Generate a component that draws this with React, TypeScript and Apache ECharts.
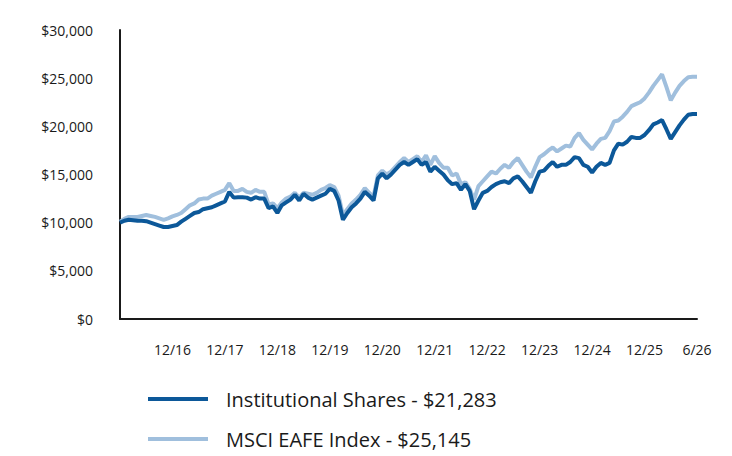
import { useEffect, useRef } from 'react';
import * as echarts from 'echarts';

// monthly growth of $10,000, index 0 .. 132
const institutional = [
  10000, 10200, 10300, 10250, 10200, 10200, 10150, 10000, 9850, 9700,
  9550, 9550, 9650, 9750, 10100, 10400, 10700, 11000, 11100, 11400,
  11500, 11600, 11800, 12000, 12200, 13200, 12600, 12650, 12650, 12600,
  12400, 12650, 12500, 12500, 11500, 11700, 11000, 11800, 12100, 12400,
  12900, 12300, 13000, 12600, 12400, 12600, 12800, 13000, 13500, 13300,
  12300, 10300, 11000, 11600, 12000, 12500, 13200, 12800, 12300, 14600,
  15100, 14600, 15000, 15500, 16000, 16300, 16000, 16300, 16600, 16000,
  16300, 15300, 15800, 15400, 15000, 14400, 14000, 14100, 13400, 14000,
  13300, 11400, 12300, 13100, 13300, 13700, 14000, 14200, 14300, 14100,
  14600, 14800, 14300, 13700, 13100, 14300, 15300, 15400, 15900, 16300,
  15800, 16000, 16000, 16300, 16800, 16700, 16000, 15800, 15200, 15800,
  16200, 16000, 16200, 17500, 18200, 18100, 18400, 18900, 18800, 18800,
  19100, 19600, 20200, 20400, 20650, 19700, 18700, 19400, 20100, 20700,
  21200, 21283, 21283,
];

const msciEafe = [
  10100, 10400, 10600, 10600, 10600, 10700, 10800, 10700, 10600, 10450,
  10300, 10450, 10650, 10800, 11000, 11400, 11800, 12000, 12400, 12500,
  12500, 12800, 13000, 13200, 13400, 14100, 13300, 13300, 13500, 13200,
  13100, 13400, 13200, 13200, 11900, 12000, 11500, 12100, 12500, 12700,
  13100, 12600, 13100, 13000, 12900, 13100, 13400, 13600, 13900, 13700,
  12800, 10800, 11400, 12000, 12400, 12900, 13600, 13100, 12700, 14900,
  15400, 15000, 15300, 15800, 16300, 16700, 16300, 16600, 16900, 16300,
  17000, 16000, 16900, 16200, 15700, 15700, 14900, 15100, 14000, 14200,
  13500, 12400, 13800, 14300, 14800, 15300, 15100, 15600, 16000, 15700,
  16300, 16700, 16000, 15300, 14700, 15800, 16800, 17100, 17500, 17800,
  17400, 17700, 18000, 17900, 18800, 19300, 18600, 18100, 17600, 18200,
  18700, 18800, 19500, 20500, 20600, 21000, 21500, 22100, 22300, 22500,
  22900, 23500, 24200, 24800, 25400, 24100, 22700, 23500, 24200, 24700,
  25100, 25145, 25145,
];

const tickIndex = [12, 24, 36, 48, 60, 72, 84, 96, 108, 120, 132];
const tickLabels = ['12/16', '12/17', '12/18', '12/19', '12/20', '12/21', '12/22', '12/23', '12/24', '12/25', '6/26'];

const seriesNames = ['Institutional Shares - $21,283', 'MSCI EAFE Index - $25,145'];

const FONT = "'Open Sans', sans-serif";

const legendItem = (name: string, top: number) => ({
  left: 143,
  top,
  itemWidth: 60,
  itemHeight: 4,
  icon: 'rect',
  data: [name],
  textStyle: {
    fontSize: 20,
    fontFamily: FONT,
    color: '#1a1a1a',
    padding: [0, 0, 0, 13],
  },
});

export default function App() {
  const chartRef = useRef<HTMLDivElement>(null);

  useEffect(() => {
    document.body.style.margin = '0';
    if (!chartRef.current) return;
    const chart = echarts.init(chartRef.current, undefined, { renderer: 'svg' });

    const categories = institutional.map((_, i) => String(i));

    chart.setOption({
      animation: false,
      backgroundColor: '#ffffff',
      grid: { left: 120, right: 35, top: 30, bottom: 137 },
      xAxis: {
        type: 'category',
        data: categories,
        boundaryGap: false,
        axisLine: { lineStyle: { color: '#1a1a1a', width: 2 } },
        axisTick: { show: false },
        axisLabel: {
          interval: 0,
          margin: 23,
          color: '#1a1a1a',
          fontSize: 14,
          fontFamily: FONT,
          formatter: (_v: string, idx: number) => {
            const k = tickIndex.indexOf(idx);
            return k >= 0 ? tickLabels[k] : '';
          },
        },
        splitLine: { show: false },
      },
      yAxis: {
        type: 'value',
        min: 0,
        max: 30000,
        interval: 5000,
        axisLine: { show: true, lineStyle: { color: '#1a1a1a', width: 2 } },
        axisTick: { show: false },
        axisLabel: {
          margin: 27,
          color: '#1a1a1a',
          fontSize: 14,
          fontFamily: FONT,
          formatter: (v: number) => '$' + v.toLocaleString('en-US'),
        },
        splitLine: { show: false },
      },
      legend: [legendItem(seriesNames[0], 384), legendItem(seriesNames[1], 424)],
      series: [
        {
          name: seriesNames[1],
          type: 'line',
          data: msciEafe,
          symbol: 'none',
          color: '#a0bfdd',
          lineStyle: { color: '#a0bfdd', width: 4 },
        },
        {
          name: seriesNames[0],
          type: 'line',
          data: institutional,
          symbol: 'none',
          color: '#0c5899',
          lineStyle: { color: '#0c5899', width: 4 },
        },
      ],
    });

    return () => chart.dispose();
  }, []);

  return <div ref={chartRef} style={{ width: 732, height: 456 }} />;
}
